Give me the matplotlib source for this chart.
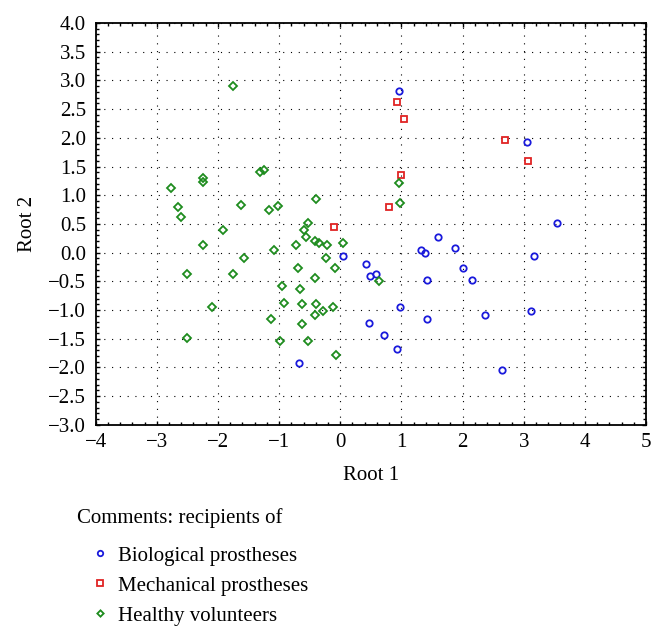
import matplotlib
matplotlib.use("Agg")
import matplotlib.pyplot as plt
from matplotlib.ticker import MultipleLocator

plt.rcParams['font.family'] = ['Liberation Serif', 'DejaVu Serif']

# Biological prostheses
bio_x = [0.05, 0.42, 0.49, 0.58, 0.47, -0.67, 0.96, 3.06, 3.55, 1.59, 1.32, 1.38,
         1.88, 3.17, 2.01, 1.42, 2.16, 0.98, 1.42, 2.37, 3.12, 0.72, 0.92, 2.64]
bio_y = [-0.06, -0.20, -0.41, -0.38, -1.22, -1.92, 2.82, 1.93, 0.51, 0.28, 0.05, -0.01,
         0.08, -0.05, -0.26, -0.47, -0.47, -0.94, -1.15, -1.09, -1.02, -1.44, -1.67, -2.05]

# Mechanical prostheses
mech_x = [-0.11, 0.92, 1.04, 2.70, 3.07, 1.00, 0.80]
mech_y = [0.45, 2.62, 2.33, 1.97, 1.60, 1.35, 0.79]

# Healthy volunteers
healthy_x = [-1.76, -1.32, -1.24, -2.25, -2.25, -2.77, -0.39, -1.63, -2.66, -1.16,
             -1.02, -2.60, -0.52, -0.60, -1.91, -0.56, -0.42, -0.35, -0.22, 0.05,
             -0.72, -2.24, -1.08, -1.57, -0.23, 0.63, -2.51, -1.76, -0.69, -0.09,
             -0.41, -0.95, -0.66, -2.09, -0.92, -0.63, -0.40, -0.12, -0.28, -0.41,
             -1.13, -0.62, -2.51, -0.99, -0.53, -0.07, 0.96, 0.98]
healthy_y = [2.91, 1.40, 1.44, 1.30, 1.23, 1.12, 0.94, 0.83, 0.79, 0.74,
             0.82, 0.62, 0.51, 0.39, 0.39, 0.28, 0.21, 0.16, 0.14, 0.16,
             0.13, 0.13, 0.05, -0.10, -0.10, -0.50, -0.38, -0.38, -0.26, -0.26,
             -0.44, -0.58, -0.63, -0.94, -0.88, -0.90, -0.90, -0.94, -1.01, -1.09,
             -1.16, -1.24, -1.48, -1.54, -1.54, -1.78, 1.22, 0.86]

labels = ['Biological prostheses', 'Mechanical prostheses', 'Healthy volunteers']

fig = plt.figure(figsize=(6.64, 6.38), dpi=100)
ax = fig.add_axes([0.144, 0.334, 0.829, 0.630])

ax.plot(bio_x, bio_y, 'o', ls='none', mfc='none', mec='#1a1adc', mew=1.3, ms=4.6, label=labels[0])
ax.plot(mech_x, mech_y, 's', ls='none', mfc='none', mec='#e02424', mew=1.3, ms=4.6, label=labels[1])
ax.plot(healthy_x, healthy_y, 'D', ls='none', mfc='none', mec='#1e8c1e', mew=1.3, ms=3.8, label=labels[2])

ax.set_xlim(-4, 5)
ax.set_ylim(-3, 4)
ax.xaxis.set_major_locator(MultipleLocator(1))
ax.xaxis.set_minor_locator(MultipleLocator(0.2))
ax.yaxis.set_major_locator(MultipleLocator(0.5))
ax.yaxis.set_minor_locator(MultipleLocator(0.1))

ax.tick_params(which='both', direction='in', top=True, right=True, labelsize=15, width=1)
ax.tick_params(which='major', length=3)
ax.tick_params(which='minor', length=2)
ax.tick_params(axis='x', pad=6)
ax.tick_params(axis='y', pad=7)
for s in ax.spines.values():
    s.set_linewidth(1.3)

ax.grid(True, which='major', color='black', linestyle=(0, (1, 6)), linewidth=0.8)

ax.set_xlabel('Root 1', fontsize=15, labelpad=10)
ax.set_ylabel('Root 2', fontsize=15, labelpad=8)

fig.text(77 / 664, 1 - 518 / 638, 'Comments: recipients of', va='center', ha='left', fontsize=15)
fig.legend(loc='upper left', bbox_to_anchor=(0.141, 0.144), frameon=False,
           fontsize=15, handlelength=0.6, handletextpad=0.56,
           labelspacing=0.5, borderpad=0, borderaxespad=0, markerscale=0.85)

fig.savefig('out.png', dpi=100)
